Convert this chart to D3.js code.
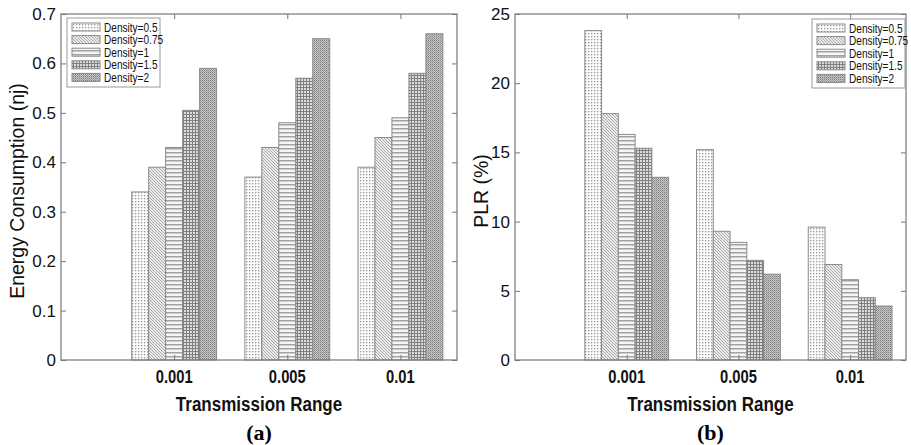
<!DOCTYPE html>
<html>
<head>
<meta charset="utf-8">
<script src="https://cdn.jsdelivr.net/npm/d3@7"></script>
<style>
	body { margin: 0; background: #fff; }
	svg { display: block; }
	.tick text { font-family: "Liberation Sans", Arial, sans-serif; fill: #111; }
	.domain { stroke: none; }
	.tick line { stroke: #777; }
</style>
</head>
<body>
<div id="figure"></div>
<script>
var categories = [ "0.001", "0.005", "0.01" ];
var densities = [ "Density=0.5", "Density=0.75", "Density=1", "Density=1.5", "Density=2" ];

// energy consumption (nj), one array per density
var energyD05  = [ 0.34, 0.37, 0.39 ];
var energyD075 = [ 0.39, 0.43, 0.45 ];
var energyD1   = [ 0.43, 0.48, 0.49 ];
var energyD15  = [ 0.505, 0.57, 0.58 ];
var energyD2   = [ 0.59, 0.65, 0.66 ];

// packet loss ratio (%), one array per density
var plrD05  = [ 23.8, 15.2, 9.6 ];
var plrD075 = [ 17.8, 9.3, 6.9 ];
var plrD1   = [ 16.3, 8.5, 5.8 ];
var plrD15  = [ 15.3, 7.2, 4.5 ];
var plrD2   = [ 13.2, 6.2, 3.9 ];

var energyTicks = [ 0, 0.1, 0.2, 0.3, 0.4, 0.5, 0.6, 0.7 ];
var plrTicks = [ 0, 5, 10, 15, 20, 25 ];

var sans = "'Liberation Sans', Arial, sans-serif";


var svg = d3.select("#figure")
	.append("svg")
	.attr("width", 911)
	.attr("height", 445)
;

// fill patterns, one per density
var defs = svg.append("defs");

var p = defs.append("pattern").attr("id", "pat0").attr("patternUnits", "userSpaceOnUse")
	.attr("width", 3).attr("height", 3);
p.append("rect").attr("width", 3).attr("height", 3).attr("fill", "#fbfbfb");
p.append("rect").attr("width", 1).attr("height", 1).attr("fill", "#9c9c9c");
p.append("rect").attr("x", 1).attr("width", 1).attr("height", 1).attr("fill", "#d6d6d6");
p.append("rect").attr("y", 1).attr("width", 1).attr("height", 1).attr("fill", "#d6d6d6");

p = defs.append("pattern").attr("id", "pat1").attr("patternUnits", "userSpaceOnUse")
	.attr("width", 3).attr("height", 3);
p.append("rect").attr("width", 3).attr("height", 3).attr("fill", "#ececec");
p.append("path").attr("d", "M-1,-1L4,4M-1,2L1,4M2,-1L4,1").attr("stroke", "#a0a0a0").attr("stroke-width", 0.9);

p = defs.append("pattern").attr("id", "pat2").attr("patternUnits", "userSpaceOnUse")
	.attr("width", 4).attr("height", 4);
p.append("rect").attr("width", 4).attr("height", 4).attr("fill", "#f6f6f6");
p.append("rect").attr("y", 0).attr("width", 4).attr("height", 1.5).attr("fill", "#a2a2a2");

p = defs.append("pattern").attr("id", "pat3").attr("patternUnits", "userSpaceOnUse")
	.attr("width", 3).attr("height", 3);
p.append("rect").attr("width", 3).attr("height", 3).attr("fill", "#dcdcdc");
p.append("rect").attr("width", 3).attr("height", 1).attr("fill", "#808080");
p.append("rect").attr("width", 1).attr("height", 3).attr("fill", "#808080");

p = defs.append("pattern").attr("id", "pat4").attr("patternUnits", "userSpaceOnUse")
	.attr("width", 2).attr("height", 2);
p.append("rect").attr("width", 2).attr("height", 2).attr("fill", "#c6c6c6");
p.append("rect").attr("width", 1).attr("height", 1).attr("fill", "#7e7e7e");
p.append("rect").attr("x", 1).attr("y", 1).attr("width", 1).attr("height", 1).attr("fill", "#a0a0a0");


// draws text squeezed horizontally, since no narrow font is around
function narrowText(sel, x, y, str, size, squeeze, bold, anchor) {
	return sel.append("text")
		.attr("transform", "translate(" + x + "," + y + ")scale(" + squeeze + ",1)")
		.attr("text-anchor", anchor || "start")
		.style("font-family", sans)
		.style("font-size", size + "px")
		.style("font-weight", bold ? "bold" : "normal")
		.attr("fill", "#111")
		.text(str);
}

function drawPanel(opt) {
	var x = d3.scaleLinear().domain([0, 3.5]).range([opt.left, opt.right]);
	var y = d3.scaleLinear().domain(opt.domain).range([opt.bottom, opt.top]);
	var g = svg.append("g");
	var barW = x(0.15) - x(0);

	opt.series.forEach((vals, j) => {
		g.selectAll(".bar" + j)
			.data(vals)
		.enter().append("rect")
			.attr("class", "bar" + j)
			.attr("x", (d, i) => x(i + 1) - 2.5 * barW + j * barW)
			.attr("y", (d) => y(d))
			.attr("width", barW)
			.attr("height", (d) => y(0) - y(d))
			.attr("fill", "url(#pat" + j + ")")
			.attr("stroke", "#8a8a8a")
			.attr("stroke-width", 1)
		;
	});

	// box
	g.append("rect")
		.attr("x", opt.left).attr("y", opt.top)
		.attr("width", opt.right - opt.left).attr("height", opt.bottom - opt.top)
		.attr("fill", "none").attr("stroke", "#777").attr("stroke-width", 1.2);

	g.append("g")
		.attr("transform", "translate(" + opt.left + ",0)")
		.call(d3.axisLeft(y).tickValues(opt.ticks).tickSize(-5).tickPadding(5).tickFormat(d3.format("")))
		.call(a => a.selectAll("text").style("font-size", "17px"))
	;
	g.append("g")
		.attr("transform", "translate(" + opt.right + ",0)")
		.call(d3.axisRight(y).tickValues(opt.ticks).tickSize(-5).tickFormat(""))
	;
	g.append("g")
		.attr("transform", "translate(0," + opt.bottom + ")")
		.call(d3.axisBottom(x).tickValues([1, 2, 3]).tickSize(-5).tickFormat(""))
	;
	[1, 2, 3].forEach((c) => {
		narrowText(g, x(c), opt.bottom + 23, categories[c - 1], 18, 0.82, true, "middle");
	});
	g.append("g")
		.attr("transform", "translate(0," + opt.top + ")")
		.call(d3.axisTop(x).tickValues([1, 2, 3]).tickSize(-5).tickFormat(""))
	;

	g.append("text")
		.attr("transform", "translate(" + opt.ylabelX + "," + ((opt.top + opt.bottom) / 2 + 4) + ")rotate(-90)")
		.attr("text-anchor", "middle")
		.style("font-family", sans)
		.style("font-size", "19.5px")
		.attr("fill", "#111")
		.text(opt.ylabel)
	;

	var mid = (opt.left + opt.right) / 2;
	narrowText(g, mid, 411, "Transmission Range", 20.5, 0.83, true, "middle");
	g.append("text")
		.attr("x", mid).attr("y", 440)
		.attr("text-anchor", "middle")
		.style("font-family", "'Liberation Serif', 'Times New Roman', serif")
		.style("font-weight", "bold")
		.style("font-size", "22px")
		.text(opt.caption)
	;

	// legend
	var lg = g.append("g").attr("transform", "translate(" + opt.legend[0] + "," + opt.legend[1] + ")");
	lg.append("rect")
		.attr("width", 93).attr("height", 69)
		.attr("fill", "#fff").attr("stroke", "#999").attr("stroke-width", 1);
	densities.forEach((name, j) => {
		lg.append("rect")
			.attr("x", 5).attr("y", 5 + j * 12.6)
			.attr("width", 28).attr("height", 8)
			.attr("fill", "url(#pat" + j + ")")
			.attr("stroke", "#8a8a8a");
		narrowText(lg, 37, 13.5 + j * 12.6, name, 12, 0.84, false);
	});
}

drawPanel({
	left: 61, right: 457, top: 14, bottom: 360,
	domain: [0, 0.7], ticks: energyTicks,
	series: [ energyD05, energyD075, energyD1, energyD15, energyD2 ],
	ylabel: "Energy Consumption (nj)", ylabelX: 24,
	caption: "(a)", legend: [67, 18]
});

drawPanel({
	left: 515, right: 906, top: 14, bottom: 360,
	domain: [0, 25], ticks: plrTicks,
	series: [ plrD05, plrD075, plrD1, plrD15, plrD2 ],
	ylabel: "PLR (%)", ylabelX: 488,
	caption: "(b)", legend: [812, 19]
});
</script>
</body>
</html>
